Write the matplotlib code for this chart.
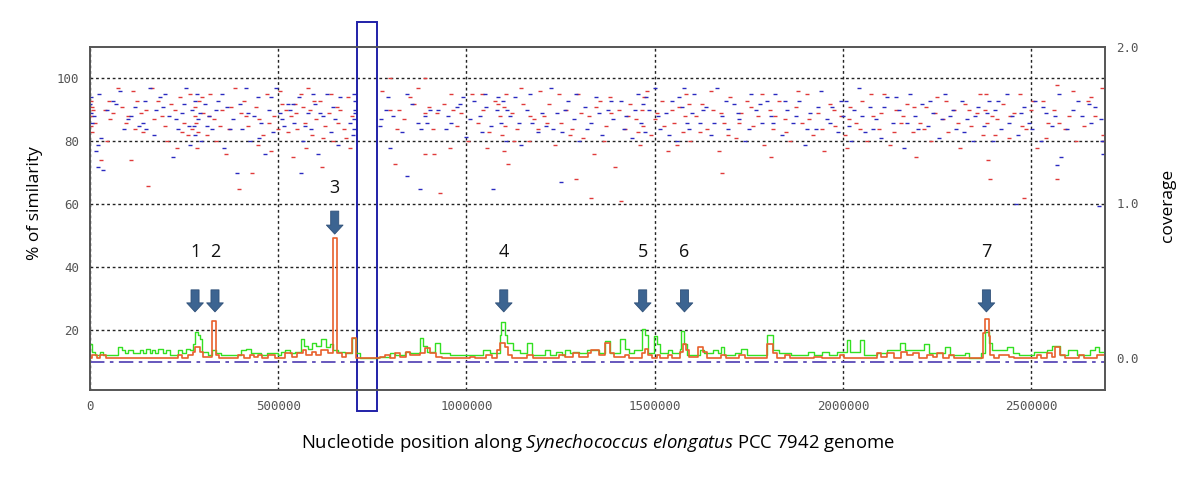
import numpy as np
import matplotlib
matplotlib.use('Agg')
import matplotlib.pyplot as plt
from matplotlib.patches import Rectangle

plt.rcParams['mathtext.fontset'] = 'custom'
plt.rcParams['mathtext.rm'] = 'Open Sans'
plt.rcParams['mathtext.it'] = 'Open Sans:italic'

GENOME = 2695903

# similarity dots (position in kb, % similarity)
red_kb = [2, 3, 4, 2, 5, 28, 40, 45, 52, 60, 75, 95, 100, 110, 115, 125,
          140, 150, 155, 165, 180, 190, 200, 205, 215, 230, 240, 250, 260,
          270, 278, 280, 282, 285, 290, 300, 310, 320, 330, 335, 350, 360, 370, 385, 395,
          400, 410, 420, 430, 440, 450, 460, 470, 480, 490, 500, 510, 520,
          535, 545, 550, 560, 570, 575, 585, 590, 600, 610, 615, 625, 635, 645, 655, 540, 580,
          665, 675, 685, 690, 695,
          775, 796, 796, 815, 809, 849, 860, 889, 900, 921, 889, 915, 929, 889,
          960, 965, 955, 975, 1003, 1015, 940,
          1030, 1045, 1060, 1075, 1090, 1095, 1100, 1100, 1102, 1105, 1110, 1120, 1135, 1150, 1165, 1180, 1195,
          1205, 1220, 1235, 1250, 1265, 1280, 1295, 1310, 1325, 1340, 1355, 1370, 1385, 1395, 1290, 1330,
          1405, 1420, 1435, 1450, 1462, 1466, 1470, 1472, 1490, 1505, 1520, 1535, 1550, 1565, 1575, 1580, 1583, 1595, 1410,
          1610, 1625, 1640, 1655, 1670, 1685, 1700, 1715, 1730, 1745, 1760, 1775, 1790, 1680,
          1805, 1815, 1830, 1845, 1860, 1875, 1890, 1905, 1920, 1935, 1950, 1965, 1980, 1995, 1810,
          2005, 2010, 2020, 2035, 2050, 2065, 2080, 2095, 2110, 2125, 2140, 2155, 2170, 2185, 2195,
          2205, 2220, 2235, 2250, 2265, 2280, 2295, 2310, 2325, 2340, 2355, 2372, 2378, 2380, 2383, 2385, 2395, 2390,
          2410, 2425, 2440, 2455, 2470, 2485, 2500, 2515, 2530, 2545, 2569, 2575, 2590, 2601, 2620, 2650, 2660, 2688, 2690, 2692, 2569, 2480,
          8, 12, 50, 85, 120, 135, 170, 225, 245, 265, 287, 298, 315, 345, 375, 415, 445, 475, 505, 525,
          548, 565, 595, 620, 640, 660, 680, 820, 835, 870, 910, 985, 1040, 1055, 1085, 1125, 1145, 1170,
          1190, 1215, 1245, 1275, 1305, 1345, 1365, 1380, 1430, 1455, 1480, 1500, 1525, 1545, 1560, 1590,
          1620, 1650, 1675, 1695, 1725, 1755, 1785, 1820, 1850, 1880, 1910, 1945, 1975, 2015, 2045, 2075,
          2100, 2135, 2160, 2190, 2215, 2245, 2275, 2305, 2335, 2365, 2405, 2445, 2475, 2505, 2540, 2560,
          2610, 2640, 2670]
red_sim = [85, 88, 91, 93, 83, 74, 90, 80, 87, 89, 97, 86, 88, 74, 96, 93,
           83, 90, 66, 97, 93, 88, 85, 80, 92, 78, 94, 86, 82,
           84, 88, 91, 86, 78, 93, 89, 82, 95, 87, 80, 90, 76, 84, 97, 65,
           89, 93, 85, 70, 91, 87, 82, 95, 77, 88, 84, 92, 90,
           88, 92, 84, 95, 86, 78, 90, 82, 87, 93, 72, 85, 89, 80, 91, 75, 97,
           90, 84, 94, 78, 88,
           96, 90, 100, 84, 73, 94, 92, 89, 91, 89, 76, 76, 63.6, 100,
           95, 90, 78, 85, 80, 95, 92,
           86, 90, 83, 93, 88, 82, 77, 91, 85, 95, 73, 89, 84, 92, 80, 87, 96,
           88, 92, 79, 86, 90, 84, 95, 81, 88, 76, 93, 85, 89, 72, 68, 62,
           90, 84, 92, 87, 79, 90, 85, 94, 82, 89, 93, 77, 86, 91, 83, 88, 95, 80, 61,
           88, 92, 84, 90, 77, 86, 94, 81, 89, 93, 85, 88, 79, 70,
           90, 84, 93, 87, 80, 91, 86, 95, 82, 89, 77, 92, 85, 88, 75,
           82, 78, 91, 86, 93, 80, 88, 84, 95, 79, 90, 86, 92, 83, 75,
           86, 91, 80, 94, 87, 83, 90, 78, 92, 85, 89, 82, 90, 95, 86, 74, 88, 68,
           87, 92, 81, 89, 95, 84, 90, 78, 93, 86, 98, 86, 84, 88, 80, 93, 94, 97, 82, 80, 68, 62,
           90, 86, 93, 91, 84, 89, 87, 90, 83, 95, 83, 94, 88, 85, 91, 88, 79, 86, 96, 83,
           89, 91, 93, 81, 95, 86, 81, 90, 87, 97, 84, 89, 95, 78, 92, 80, 97, 88,
           84, 86, 95, 82, 89, 91, 80, 94, 88, 83, 96, 87, 85, 90, 79, 92,
           83, 96, 89, 82, 86, 91, 95, 88, 83, 96, 87, 84, 90, 87, 84, 95,
           89, 83, 88, 91, 84, 89, 93, 86, 90, 95, 82, 88, 85, 93, 81, 90,
           96, 85, 88]

blue_kb = [1, 3, 2, 4, 15, 20, 30, 35, 60, 70, 80, 100, 110, 130, 20,
           140, 150, 160, 175, 185, 195, 210, 220, 235, 245, 255, 265,
           272, 276, 280, 283, 288, 295, 305, 315, 325, 340, 355, 365, 380, 390,
           405, 415, 425, 435, 445, 455, 465, 475, 485, 495, 505, 515, 525,
           532, 542, 555, 565, 578, 588, 598, 605, 620, 630, 640, 650, 658, 560,
           700, 702, 703, 704, 701, 699, 705,
           770, 772, 791, 796, 841, 876, 841, 830, 890, 895, 902, 880,
           950, 960, 975, 982, 1000, 1053, 945,
           1020, 1035, 1050, 1065, 1080, 1092, 1098, 1104, 1115, 1130, 1145, 1160, 1175, 1190, 1070,
           1210, 1225, 1240, 1255, 1270, 1285, 1300, 1315, 1330, 1345, 1360, 1375, 1390, 1250,
           1410, 1425, 1440, 1455, 1464, 1468, 1474, 1485, 1500, 1515, 1530, 1545, 1560, 1572, 1578, 1586, 1598,
           1605, 1620, 1635, 1650, 1665, 1680, 1695, 1710, 1725, 1740, 1755, 1770, 1785, 1798,
           1808, 1820, 1838, 1852, 1868, 1882, 1898, 1912, 1928, 1942, 1958, 1972, 1988,
           2000, 2008, 2015, 2028, 2042, 2058, 2072, 2088, 2102, 2118, 2132, 2148, 2162, 2178, 2192,
           2210, 2225, 2240, 2255, 2270, 2285, 2300, 2315, 2330, 2345, 2360, 2375, 2388, 2398,
           2405, 2420, 2435, 2450, 2465, 2480, 2495, 2510, 2525, 2540, 2555, 2574, 2578, 2569, 2610, 2635,
           2654, 2670, 2686, 2688, 2690, 2681, 2460,
           10, 25, 45, 90, 120, 145, 170, 200, 228, 250, 262, 278, 292, 310, 335, 350, 372, 398, 420, 450,
           480, 510, 540, 570, 593, 612, 645, 665, 690, 785, 805, 855, 870, 925, 990, 1010, 1040, 1085,
           1108, 1140, 1170, 1200, 1230, 1262, 1292, 1320, 1352, 1385, 1418, 1448, 1478, 1508, 1538, 1565,
           1592, 1628, 1658, 1690, 1720, 1750, 1780, 1815, 1845, 1875, 1905, 1935, 1965, 1995, 2022, 2050,
           2080, 2110, 2140, 2170, 2200, 2232, 2262, 2292, 2322, 2352, 2382, 2412, 2442, 2472, 2502, 2532,
           2562, 2595, 2625, 2660]
blue_sim = [92, 94, 89, 86, 77, 72, 81, 71, 93, 92, 96, 87, 88, 85, 79,
            86, 84, 97, 90, 94, 91, 88, 75, 84, 89, 97, 79,
            90, 85, 82, 95, 87, 80, 92, 88, 84, 93, 78, 91, 87, 70,
            84, 97, 80, 88, 94, 86, 76, 90, 83, 97, 89, 85, 92,
            90, 86, 94, 80, 89, 84, 92, 76, 88, 95, 83, 87, 79, 70,
            84, 87, 90, 93, 95, 82, 89,
            85, 87, 94, 78, 69, 65, 95, 83, 88, 86, 90, 84,
            88, 86, 91, 92, 81.5, 91, 84,
            93, 88, 95, 85, 90, 86, 93, 80, 88, 94, 79, 90, 86, 83, 65,
            85, 97, 89, 83, 93, 87, 80, 91, 86, 94, 82, 90, 87, 67,
            93, 88, 81, 95, 86, 92, 83, 90, 97, 84, 89, 93, 80, 91, 97, 86, 89,
            95, 86, 91, 82, 97, 88, 84, 92, 87, 80, 95, 90, 86, 93,
            88, 95, 82, 90, 86, 93, 79, 89, 84, 96, 87, 91, 83,
            88, 93, 85, 90, 97, 83, 91, 87, 81, 94, 86, 90, 78, 95, 88,
            92, 85, 89, 81, 95, 88, 84, 93, 87, 80, 91, 85, 93, 80,
            90, 84, 95, 88, 82, 91, 86, 93, 80, 89, 85, 95, 75, 72.5, 90, 88,
            92, 91, 87, 80, 76, 59.5, 60,
            88, 95, 90, 84, 91, 93, 82, 95, 87, 92, 85, 93, 89, 85, 90, 95, 84, 92, 89, 81,
            94, 87, 92, 85, 95, 89, 91, 94, 86, 90, 88, 92, 86, 90, 94, 87, 83, 94,
            90, 86, 95, 89, 84, 90, 95, 84, 89, 93, 84, 90, 94, 88, 82, 94,
            84, 90, 86, 93, 89, 84, 92, 86, 93, 88, 84, 91, 86, 93, 80, 88,
            84, 91, 94, 86, 84, 93, 87, 90, 83, 88, 89, 93, 86, 89, 84, 91,
            88, 84, 93, 86]

# coverage steps (start of step in kb, coverage)
green_kb = [0, 5, 13, 27, 35, 74, 85, 93, 101, 114, 133, 141, 149, 159, 165, 173, 180, 194, 202, 212,
            234, 244, 255, 265, 273, 279, 287, 292, 297, 313, 324, 334, 348, 401, 414, 427, 454, 470,
            499, 507, 518, 531, 544, 560, 568, 579, 589, 600, 613, 626, 637, 645, 658, 677, 695, 706,
            717, 764, 796, 809, 836, 849, 876, 884, 894, 916, 929, 955, 1043, 1062, 1088, 1093, 1101,
            1107, 1123, 1141, 1160, 1173, 1208, 1221, 1239, 1253, 1261, 1274, 1282, 1300, 1319, 1335,
            1351, 1367, 1380, 1407, 1420, 1433, 1446, 1465, 1473, 1481, 1497, 1505, 1513, 1534, 1547,
            1566, 1571, 1579, 1587, 1619, 1632, 1656, 1667, 1677, 1685, 1712, 1730, 1744, 1797, 1815,
            1829, 1863, 1906, 1924, 1943, 1964, 1985, 2012, 2020, 2044, 2057, 2091, 2118, 2152, 2166,
            2216, 2229, 2272, 2285, 2325, 2335, 2367, 2376, 2389, 2397, 2436, 2452, 2468, 2508, 2543,
            2556, 2577, 2598, 2622, 2657, 2670, 2681, 2696]
green_cov = [0.09, 0.04, 0.02, 0.04, 0.02, 0.07, 0.05, 0.03, 0.05, 0.03, 0.05, 0.03, 0.06, 0.03, 0.05,
             0.03, 0.06, 0.03, 0.05, 0.02, 0.05, 0.03, 0.06, 0.05, 0.09, 0.17, 0.15, 0.12, 0.04, 0.02,
             0.05, 0.03, 0.02, 0.05, 0.06, 0.03, 0.02, 0.03, 0.02, 0.04, 0.05, 0.03, 0.04, 0.12, 0.08,
             0.06, 0.10, 0.08, 0.12, 0.07, 0.09, 0.05, 0.04, 0.03, 0.13, 0.03, 0.0, 0.01, 0.03, 0.02,
             0.04, 0.03, 0.13, 0.08, 0.04, 0.10, 0.03, 0.02, 0.05, 0.03, 0.15, 0.23, 0.15, 0.10, 0.05,
             0.03, 0.10, 0.02, 0.05, 0.02, 0.04, 0.02, 0.05, 0.03, 0.04, 0.03, 0.05, 0.05, 0.03, 0.11,
             0.03, 0.12, 0.06, 0.03, 0.05, 0.19, 0.15, 0.03, 0.14, 0.09, 0.03, 0.05, 0.03, 0.06, 0.175,
             0.09, 0.02, 0.05, 0.03, 0.05, 0.03, 0.07, 0.02, 0.03, 0.06, 0.02, 0.15, 0.05, 0.03, 0.02,
             0.04, 0.02, 0.04, 0.02, 0.04, 0.115, 0.04, 0.115, 0.02, 0.03, 0.05, 0.10, 0.05, 0.09, 0.03,
             0.07, 0.02, 0.03, 0.0, 0.03, 0.17, 0.10, 0.05, 0.07, 0.03, 0.02, 0.04, 0.05, 0.08, 0.02,
             0.05, 0.02, 0.05, 0.07, 0.04, 0.04]

orange_kb = [0, 5, 19, 27, 42, 234, 244, 260, 273, 279, 292, 300, 324, 334, 342, 393, 409, 425, 435,
             446, 456, 472, 491, 518, 536, 549, 565, 573, 589, 600, 613, 632, 645, 656, 669, 679, 695,
             706, 770, 783, 796, 809, 823, 839, 849, 876, 889, 902, 918, 934, 1009, 1022, 1051, 1067,
             1080, 1088, 1101, 1109, 1120, 1162, 1176, 1247, 1263, 1282, 1300, 1322, 1332, 1351, 1367,
             1380, 1391, 1420, 1433, 1465, 1473, 1481, 1492, 1505, 1513, 1534, 1545, 1566, 1574, 1584,
             1592, 1616, 1627, 1638, 1677, 1690, 1725, 1741, 1797, 1815, 1826, 1845, 1858, 1924, 1943,
             1991, 2004, 2091, 2102, 2118, 2136, 2155, 2171, 2187, 2203, 2224, 2240, 2250, 2266, 2282,
             2296, 2373, 2376, 2389, 2391, 2402, 2415, 2442, 2455, 2516, 2527, 2543, 2556, 2564, 2577,
             2590, 2627, 2641, 2675, 2696]
orange_cov = [0.0, 0.02, 0.0, 0.02, 0.0, 0.02, 0.0, 0.02, 0.04, 0.07, 0.04, 0.01, 0.24, 0.02, 0.0,
              0.02, 0.0, 0.02, 0.01, 0.02, 0.0, 0.02, 0.0, 0.03, 0.01, 0.03, 0.05, 0.02, 0.04, 0.02,
              0.05, 0.03, 0.77, 0.03, 0.01, 0.03, 0.13, 0.0, 0.01, 0.02, 0.0, 0.03, 0.01, 0.04, 0.02,
              0.03, 0.065, 0.03, 0.01, 0.0, 0.01, 0.0, 0.02, 0.0, 0.05, 0.10, 0.07, 0.02, 0.0, 0.02,
              0.0, 0.02, 0.01, 0.03, 0.01, 0.03, 0.05, 0.02, 0.10, 0.03, 0.01, 0.02, 0.0, 0.03, 0.06,
              0.02, 0.0, 0.02, 0.0, 0.02, 0.0, 0.04, 0.09, 0.05, 0.01, 0.07, 0.04, 0.0, 0.02, 0.0,
              0.02, 0.0, 0.09, 0.03, 0.0, 0.02, 0.0, 0.01, 0.0, 0.02, 0.0, 0.03, 0.01, 0.03, 0.0,
              0.04, 0.02, 0.03, 0.0, 0.02, 0.01, 0.03, 0.0, 0.02, 0.0, 0.16, 0.25, 0.14, 0.02, 0.0,
              0.02, 0.01, 0.0, 0.02, 0.0, 0.03, 0.01, 0.07, 0.02, 0.0, 0.02, 0.0, 0.02, 0.02]

# marked regions (arrow position in kb, label)
arrow_kb = [279, 332, 650, 1099, 1468, 1579, 2381]
arrow_lab = ['1', '2', '3', '4', '5', '6', '7']
box_kb = [708, 762]

fig = plt.figure(figsize=(12, 4.83), dpi=100)
ax = fig.add_axes([0.075, 0.1925, 0.8458, 0.7102])
ax2 = ax.twinx()

ax.set_xlim(0, GENOME)
ax.set_ylim(1.1, 110)
ax2.set_ylim(-0.205, 2.0)

ax.set_xticks([0, 500000, 1000000, 1500000, 2000000, 2500000])
ax.set_xticklabels(['0', '500000', '1000000', '1500000', '2000000', '2500000'])
ax.set_yticks([20, 40, 60, 80, 100])
ax2.set_yticks([0.0, 1.0, 2.0])
ax2.set_yticklabels(['0.0', '1.0', '2.0'])

ax.grid(True, color='#222222', linestyle=(0, (2, 2)), linewidth=1.0)
for a in (ax, ax2):
    a.tick_params(length=0, labelsize=9, labelcolor='#555555')
    for lab in a.get_xticklabels() + a.get_yticklabels():
        lab.set_family('DejaVu Sans Mono')
    for s in a.spines.values():
        s.set_color('#555555')
        s.set_linewidth(1.2)
ax.tick_params(axis='x', pad=7)
ax.tick_params(axis='y', pad=8)
ax2.tick_params(axis='y', pad=8)

ax.plot(np.array(red_kb) * 1000, red_sim, linestyle='none', marker='_',
        markersize=2.6, markeredgewidth=1.0, color='#e03a3a', zorder=3)
ax.plot(np.array(blue_kb) * 1000, blue_sim, linestyle='none', marker='_',
        markersize=2.6, markeredgewidth=1.0, color='#2a2ac0', zorder=3)

ax.axhline(10, color='#5a4ab8', linestyle=(0, (8, 3, 2, 3)), linewidth=1.3, zorder=2)

ax2.step(np.array(green_kb) * 1000, green_cov, where='post', color='#33e022', linewidth=1.0)
ax2.step(np.array(orange_kb) * 1000, orange_cov, where='post', color='#e8602c', linewidth=1.2)

for k, lab in zip(arrow_kb, arrow_lab):
    top = 57.9 if lab == '3' else 32.9
    tip = 50.6 if lab == '3' else 25.9
    lab_y = 65.2 if lab == '3' else 44.8
    ax.annotate('', xy=(k * 1000, tip), xytext=(k * 1000, top),
                arrowprops=dict(arrowstyle='simple,head_length=6.5,head_width=12,tail_width=5.8',
                                mutation_scale=1, fc='#3c6491', ec='#2f5078', lw=0.6,
                                shrinkA=0, shrinkB=0), zorder=5)
    ax.text(k * 1000, lab_y, lab, ha='center', va='center', fontsize=13,
            family='Open Sans', color='#111111', zorder=5)

ax.add_patch(Rectangle((box_kb[0] * 1000, -5.6), (box_kb[1] - box_kb[0]) * 1000, 123.5,
                       fill=False, edgecolor='#2020a8', linewidth=1.4, clip_on=False, zorder=6))

ax.set_ylabel('% of similarity', family='Open Sans', fontsize=12.5)
ax.yaxis.set_label_coords(-0.046, 0.545)
ax2.set_ylabel('coverage', family='Open Sans', fontsize=12.5)
ax2.yaxis.set_label_coords(1.054, 0.539)
ax.set_xlabel('Nucleotide position along $\\it{Synechococcus\\ elongatus}$ PCC 7942 genome',
              family='Open Sans', fontsize=13.3, labelpad=14)

fig.savefig('out.png', dpi=100)
